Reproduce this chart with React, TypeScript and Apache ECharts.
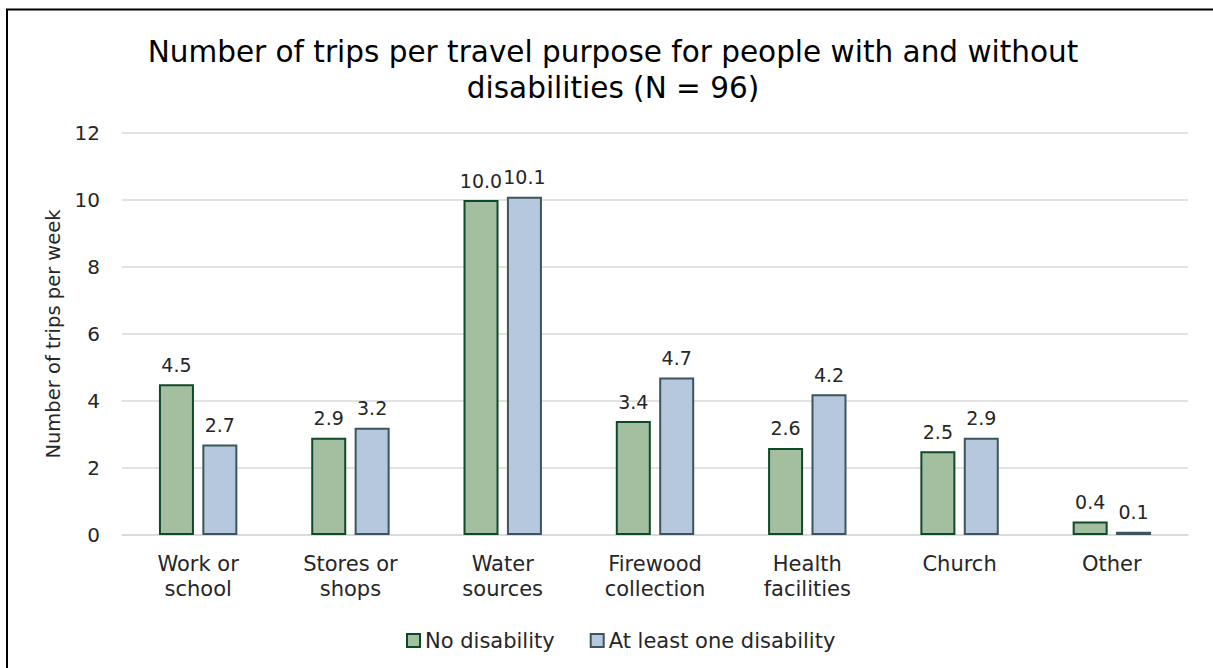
import React, { useEffect, useRef } from "react";
import * as echarts from "echarts";

const categories = ["Work or\nschool", "Stores or\nshops", "Water\nsources", "Firewood\ncollection", "Health\nfacilities", "Church", "Other"];
const noDisability = [4.5, 2.9, 10.0, 3.4, 2.6, 2.5, 0.4];
const atLeastOne = [2.7, 3.2, 10.1, 4.7, 4.2, 2.9, 0.1];
const seriesNames = ["No disability", "At least one disability"];
const yTicks = { min: 0, max: 12, interval: 2 };

const FONT = "'DejaVu Sans', Verdana, sans-serif";

export default function App() {
  const ref = useRef<HTMLDivElement>(null);
  useEffect(() => {
    const chart = echarts.init(ref.current!, null, { renderer: "svg" });
    const labelStyle = {
      show: true,
      position: "top",
      distance: 10,
      fontFamily: FONT,
      fontSize: 19,
      color: "#262626",
      formatter: (p: any) => Number(p.value).toFixed(1),
    };
    chart.setOption({
      animation: false,
      backgroundColor: "#ffffff",
      textStyle: { fontFamily: FONT },
      title: {
        text: "Number of trips per travel purpose for people with and without\ndisabilities (N = 96)",
        left: 608,
        top: 29,
        textAlign: "center",
        textStyle: { fontFamily: FONT, fontSize: 29.5, fontWeight: "normal", color: "#000000", lineHeight: 36 },
      },
      legend: {
        left: 401,
        top: 625,
        itemWidth: 13,
        itemHeight: 13,
        itemGap: 35,
        icon: "rect",
        textStyle: { fontFamily: FONT, fontSize: 21, color: "#262626", padding: [0, 0, 0, 0] },
        data: seriesNames,
      },
      grid: { left: 122, right: 25, top: 133, bottom: 133 },
      xAxis: {
        type: "category",
        data: categories,
        axisLine: { show: true, lineStyle: { color: "#d9d9d9", width: 1.5 } },
        axisTick: { show: false },
        axisLabel: { fontFamily: FONT, fontSize: 21, color: "#262626", lineHeight: 25, margin: 16 },
      },
      yAxis: {
        type: "value",
        min: yTicks.min,
        max: yTicks.max,
        interval: yTicks.interval,
        name: "Number of trips per week",
        nameLocation: "middle",
        nameGap: 57,
        nameRotate: 90,
        nameTextStyle: { fontFamily: FONT, fontSize: 19.5, color: "#262626" },
        axisLine: { show: false },
        axisTick: { show: false },
        axisLabel: { fontFamily: FONT, fontSize: 20, color: "#262626", margin: 22 },
        splitLine: { lineStyle: { color: "#d9d9d9", width: 1.5 } },
      },
      series: [
        {
          name: seriesNames[0],
          type: "bar",
          data: noDisability,
          barWidth: 35,
          barGap: "24%",
          itemStyle: { color: "#a3bfa0", borderColor: "#0e4a2a", borderWidth: 2 },
          label: labelStyle,
        },
        {
          name: seriesNames[1],
          type: "bar",
          data: atLeastOne,
          barWidth: 35,
          itemStyle: { color: "#b6c8de", borderColor: "#3b545d", borderWidth: 2 },
          label: labelStyle,
        },
      ],
      graphic: [
        {
          type: "rect",
          shape: { x: 7, y: 9.5, width: 1215, height: 670 },
          style: { fill: "none", stroke: "#000000", lineWidth: 2 },
          silent: true,
        },
      ],
    });
    return () => chart.dispose();
  }, []);
  return <div ref={ref} style={{ position: "fixed", left: 0, top: 0, width: 1213, height: 668 }} />;
}
